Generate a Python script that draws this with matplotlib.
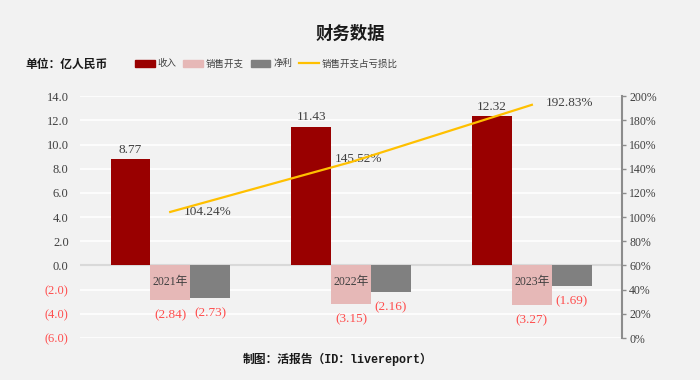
import matplotlib
matplotlib.use("Agg")
import matplotlib.pyplot as plt
import numpy as np
from matplotlib.patches import Patch
from matplotlib.lines import Line2D

years = ["2021年", "2022年", "2023年"]
revenue = [8.77, 11.43, 12.32]
sales_exp = [-2.84, -3.15, -3.27]
net_profit = [-2.73, -2.16, -1.69]
ratio = [104.24, 145.52, 192.83]
left_ticks = [-6, -4, -2, 0, 2, 4, 6, 8, 10, 12, 14]
right_ticks = [0, 20, 40, 60, 80, 100, 120, 140, 160, 180, 200]

BG = "#f2f2f2"
C_REV = "#990000"
C_SALES = "#e6b8b7"
C_NET = "#808080"
C_LINE = "#ffc000"
C_NEG = "#ff4d4d"
C_TXT = "#404040"

FONT = ["Liberation Serif", "Noto Sans CJK SC"]
CJK = ["Noto Sans CJK SC", "DejaVu Sans"]
plt.rcParams["font.family"] = FONT

fig = plt.figure(figsize=(7, 3.8), dpi=100, facecolor=BG)
ax = fig.add_axes([0.114, 0.1105, 0.775, 0.6365])
ax.set_facecolor(BG)

x = np.arange(len(years))
w = 0.22
ax.set_xlim(-0.5, len(years) - 0.5)
ax.set_ylim(-6, 14)
ax.set_yticks(left_ticks)
ax.yaxis.grid(True, color="white", lw=1.2)
ax.set_axisbelow(True)
for s in ax.spines.values():
    s.set_visible(False)
ax.tick_params(axis="y", length=0, labelsize=9, pad=8)
ax.set_xticks([])
ax.axhline(0, color="#d9d9d9", lw=1.5, zorder=1)

labels = []
for t in left_ticks:
    labels.append(f"({abs(t):.1f})" if t < 0 else f"{t:.1f}")
ax.set_yticklabels(labels)
for lab, t in zip(ax.get_yticklabels(), left_ticks):
    lab.set_color(C_NEG if t < 0 else C_TXT)

ax.bar(x - w, revenue, w, color=C_REV, zorder=2)
ax.bar(x, sales_exp, w, color=C_SALES, zorder=2)
ax.bar(x + w, net_profit, w, color=C_NET, zorder=2)

for i in range(len(years)):
    ax.annotate(f"{revenue[i]:.2f}", (x[i] - w, revenue[i]), xytext=(0, 7),
                textcoords="offset points", ha="center", va="center",
                fontsize=9.5, color=C_TXT)
    ax.annotate(f"({abs(sales_exp[i]):.2f})", (x[i], sales_exp[i]), xytext=(0, -11),
                textcoords="offset points", ha="center", va="center",
                fontsize=9.5, color=C_NEG)
    ax.annotate(f"({abs(net_profit[i]):.2f})", (x[i] + w, net_profit[i]), xytext=(0, -11),
                textcoords="offset points", ha="center", va="center",
                fontsize=9.5, color=C_NEG)
    ax.annotate(years[i], (x[i], 0), xytext=(0, -12), textcoords="offset points",
                ha="center", va="center", fontsize=8.5, color=C_TXT, zorder=5)

ax2 = ax.twinx()
ax2.set_ylim(0, 200)
ax2.set_yticks(right_ticks)
ax2.set_yticklabels([f"{t}%" for t in right_ticks])
for s in ["top", "left", "bottom"]:
    ax2.spines[s].set_visible(False)
ax2.spines["right"].set_color("#8c8c8c")
ax2.spines["right"].set_linewidth(1.5)
ax2.tick_params(axis="y", colors="#8c8c8c", labelcolor=C_TXT, labelsize=8.5,
                length=3, width=1, pad=2)
ax2.plot(x, ratio, color=C_LINE, lw=1.6, zorder=4)
offs = [(10, 0), (-12, 2), (10, 1)]
for i in range(len(years)):
    ax2.annotate(f"{ratio[i]:.2f}%", (x[i], ratio[i]), xytext=offs[i],
                 textcoords="offset points", ha="left", va="center",
                 fontsize=9.5, color=C_TXT)

fig.text(0.5, 0.91, "财务数据", ha="center", va="center", fontsize=12.5,
         fontweight="bold", family=CJK, color="#1a1a1a")
fig.text(0.036, 0.832, "单位：亿人民币", ha="left", va="center", fontsize=8.5,
         fontweight="bold", family=CJK, color="#1a1a1a")
fig.text(0.483, 0.053, "制图：活报告（ID：livereport）", ha="center", va="center",
         fontsize=8.5, fontweight="bold", family=["Liberation Mono", "Noto Sans CJK SC"],
         color="#1a1a1a")

handles = [Patch(color=C_REV), Patch(color=C_SALES), Patch(color=C_NET),
           Line2D([0], [0], color=C_LINE, lw=1.6)]
names = ["收入", "销售开支", "净利", "销售开支占亏损比"]
leg = fig.legend(handles, names, loc="center left", bbox_to_anchor=(0.193, 0.832),
                 ncol=4, frameon=False, prop={"family": CJK, "size": 6.8},
                 handlelength=2.1, handleheight=0.75, handletextpad=0.3,
                 columnspacing=0.7, labelcolor=C_TXT, borderpad=0, borderaxespad=0)

fig.savefig("out.png", dpi=100, facecolor=BG)
